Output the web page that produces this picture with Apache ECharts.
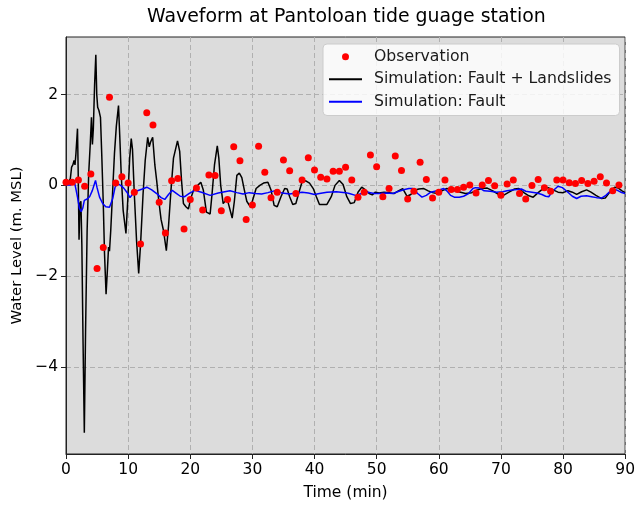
<!DOCTYPE html>
<html>
<head>
<meta charset="utf-8">
<script src="https://cdn.jsdelivr.net/npm/echarts@6/dist/echarts.min.js"></script>
<style>
html,body{margin:0;padding:0;background:#fff;}
#chart{width:638px;height:506px;}
</style>
</head>
<body>
<div id="chart"></div>
<script>
// ---- data ----
const obsTime = [0,1,2,3,4,5,6,7,8,9,10,11,12,13,14,15,16,17,18,19,20,21,22,23,24,25,26,27,28,29,30,31,32,33,34,35,36,37,38,39,40,41,42,43,44,45,46,47,48,49,50,51,52,53,54,55,56,57,58,59,60,61,62,63,64,65,66,67,68,69,70,71,72,73,74,75,76,77,78,79,80,81,82,83,84,85,86,87,88,89];
const obsLevel = [0.07,0.07,0.12,-0.02,0.25,-1.83,-1.37,1.94,0.05,0.19,0.05,-0.15,-1.29,1.60,1.33,-0.37,-1.05,0.10,0.15,-0.96,-0.31,-0.06,-0.54,0.23,0.22,-0.56,-0.31,0.85,0.54,-0.75,-0.43,0.86,0.29,-0.27,-0.15,0.56,0.32,-0.18,0.12,0.61,0.34,0.18,0.14,0.31,0.31,0.40,0.12,-0.26,-0.15,0.67,0.41,-0.25,-0.07,0.65,0.33,-0.30,-0.13,0.51,0.13,-0.28,-0.15,0.12,-0.09,-0.09,-0.04,0.01,-0.17,0.01,0.11,-0.01,-0.22,0.03,0.12,-0.18,-0.30,0.00,0.13,-0.05,-0.13,0.12,0.12,0.06,0.04,0.11,0.04,0.09,0.19,0.05,-0.12,0.01];

const landslideTime = [0.0,0.4,0.7,0.9,1.1,1.3,1.45,1.6,1.85,1.95,2.1,2.25,2.4,2.55,2.75,2.95,3.15,3.4,3.65,3.9,4.1,4.25,4.4,4.6,4.8,4.95,5.1,5.3,5.55,5.75,6.0,6.2,6.45,6.65,6.85,7.0,7.2,7.5,7.8,8.1,8.45,8.65,8.9,9.2,9.65,9.95,10.25,10.5,10.7,11.0,11.35,11.7,12.0,12.4,12.75,13.15,13.4,13.6,13.95,14.3,14.6,14.9,15.3,15.7,16.15,16.5,16.9,17.3,17.95,18.3,18.6,18.9,19.3,19.7,20.1,20.6,21.2,21.7,22.1,22.6,23.2,23.5,23.9,24.35,24.6,24.9,25.3,25.7,26.1,26.75,27.1,27.5,27.9,28.3,28.7,29.1,29.7,30.1,30.6,31.2,31.8,32.5,33.0,33.5,34.0,34.6,35.2,35.6,36.0,36.5,37.0,37.5,38.0,38.6,39.2,39.8,40.3,40.8,41.3,42.0,42.7,43.3,44.0,44.6,45.2,45.8,46.4,47.0,47.6,48.2,48.8,49.3,49.8,50.4,51.2,52.0,52.8,53.5,54.2,54.9,55.5,56.2,56.8,57.6,58.3,59.0,59.7,60.5,61.3,62.2,63.2,64.3,65.3,66.2,67.0,67.8,68.7,69.6,70.4,71.3,72.2,72.9,73.7,74.5,75.2,76.0,76.8,77.6,78.4,79.2,80.0,80.8,81.5,82.2,83.0,83.8,84.5,85.3,86.2,86.8,87.5,88.3,88.9,89.5,90.0];
const landslideLevel = [0.02,0.05,0.15,0.40,0.45,0.55,0.45,0.70,1.25,0.40,-1.20,-0.40,-0.35,-1.30,-3.5,-5.45,-3.2,-1.0,0.25,0.9,1.50,0.9,1.25,2.2,2.88,2.0,1.72,1.65,1.50,0.70,-0.40,-1.5,-2.40,-1.9,-1.36,-1.45,-1.0,-0.15,0.70,1.30,1.76,1.1,0.2,-0.55,-1.06,-0.3,0.6,1.03,0.8,-0.2,-1.2,-1.94,-1.3,-0.2,0.55,1.06,0.85,0.95,1.06,0.45,0.1,-0.3,-0.75,-1.0,-1.44,-0.9,-0.1,0.6,0.98,0.75,0.1,-0.40,-0.47,-0.52,-0.28,-0.08,0.0,0.07,-0.10,-0.59,-0.63,-0.2,0.45,0.87,0.6,0.0,-0.40,-0.33,-0.38,-0.72,-0.35,0.22,0.27,0.17,-0.1,-0.35,-0.48,-0.30,-0.07,0.0,0.05,0.07,-0.1,-0.44,-0.47,-0.25,-0.07,-0.08,-0.25,-0.42,-0.40,-0.15,0.08,0.10,0.05,-0.07,-0.25,-0.42,-0.42,-0.42,-0.25,0.0,0.11,0.02,-0.25,-0.40,-0.38,-0.15,-0.04,-0.10,-0.18,-0.21,-0.15,-0.17,-0.15,-0.16,-0.18,-0.12,-0.07,-0.24,-0.2,-0.1,-0.08,-0.07,-0.12,-0.16,-0.18,-0.12,-0.07,-0.10,-0.14,-0.18,-0.16,-0.10,-0.07,-0.06,-0.12,-0.20,-0.22,-0.15,-0.08,-0.07,-0.16,-0.23,-0.26,-0.16,-0.07,-0.05,-0.10,-0.15,-0.16,-0.12,-0.15,-0.20,-0.14,-0.10,-0.15,-0.22,-0.29,-0.28,-0.15,-0.04,-0.06,-0.12,-0.16];

const faultTime = [0.0,0.8,1.3,1.55,1.85,2.15,2.45,2.7,2.95,3.4,3.8,4.25,4.75,5.0,5.4,5.9,6.4,7.0,7.5,7.9,8.3,8.8,9.3,9.8,10.3,10.8,11.5,12.3,13.0,13.8,14.6,15.3,15.9,16.5,17.1,17.7,18.4,19.1,19.9,20.75,21.8,23.2,24.5,26.4,27.5,28.5,29.5,30.5,31.5,32.5,33.8,34.8,36.0,37.0,38.0,39.0,40.0,40.8,42.0,43.5,45.0,45.6,46.6,47.6,48.6,49.6,50.6,51.6,52.6,53.6,54.5,55.2,55.8,56.6,57.3,58.0,58.7,59.7,60.8,61.3,61.9,62.5,63.3,64.0,64.8,65.5,65.9,66.6,67.3,68.3,69.3,70.3,71.0,71.8,72.6,73.3,74.0,75.0,75.8,76.6,77.2,77.7,78.3,79.2,79.9,80.7,81.5,82.2,82.9,83.8,84.6,85.4,86.2,86.9,87.5,88.0,88.6,89.3,90.0];
const faultLevel = [0.01,0.01,0.11,-0.05,-0.26,-0.50,-0.58,-0.50,-0.33,-0.30,-0.25,-0.11,0.11,-0.05,-0.26,-0.40,-0.47,-0.48,-0.30,-0.04,0.04,0.0,-0.06,-0.15,-0.27,-0.18,-0.12,-0.08,-0.04,-0.10,-0.18,-0.27,-0.31,-0.20,-0.11,-0.17,-0.24,-0.25,-0.17,-0.11,-0.15,-0.22,-0.17,-0.12,-0.16,-0.19,-0.16,-0.18,-0.19,-0.16,-0.11,-0.17,-0.19,-0.17,-0.15,-0.17,-0.20,-0.18,-0.15,-0.14,-0.16,-0.18,-0.22,-0.18,-0.15,-0.18,-0.18,-0.17,-0.18,-0.13,-0.09,-0.07,-0.07,-0.18,-0.26,-0.22,-0.15,-0.12,-0.07,-0.12,-0.22,-0.26,-0.26,-0.24,-0.18,-0.07,-0.05,-0.06,-0.12,-0.13,-0.15,-0.14,-0.12,-0.10,-0.09,-0.08,-0.13,-0.15,-0.17,-0.20,-0.24,-0.25,-0.13,-0.02,-0.05,-0.14,-0.24,-0.29,-0.24,-0.23,-0.25,-0.27,-0.28,-0.22,-0.14,-0.09,-0.10,-0.15,-0.18];

const xTicks = [0,10,20,30,40,50,60,70,80,90];
const yTicks = [-4,-2,0,2];

const seriesNames = ['Observation','Simulation: Fault + Landslides','Simulation: Fault'];

function pairs(xs, ys){ return xs.map((x,i)=>[x, ys[i]]); }

const FONT = 'DejaVu Sans';
const chart = echarts.init(document.getElementById('chart'), null, {renderer:'canvas'});

chart.setOption({
  animation:false,
  backgroundColor:'#ffffff',
  textStyle:{fontFamily:FONT},
  title:{
    text:'Waveform at Pantoloan tide guage station',
    left:147, top:8, padding:0,
    textStyle:{fontFamily:FONT, fontSize:18.9, fontWeight:'normal', color:'#000'}
  },
  grid:{
    left:66, right:11, top:37, bottom:51,
    show:true, backgroundColor:'#dcdcdc', borderColor:'#222', borderWidth:1
  },
  legend:{
    orient:'vertical',
    left:323, top:44,
    padding:[4,8,5,5],
    itemWidth:33, itemHeight:7, itemGap:5,
    backgroundColor:'rgba(255,255,255,0.82)',
    borderColor:'#cccccc', borderWidth:1, borderRadius:4,
    textStyle:{fontFamily:FONT, fontSize:15.7, color:'#1a1a1a', lineHeight:17.5, padding:[0,0,0,7]},
    data:[
      {name:seriesNames[0], icon:'circle', itemStyle:{opacity:1}},
      {name:seriesNames[1], itemStyle:{opacity:0}},
      {name:seriesNames[2], itemStyle:{opacity:0}}
    ]
  },
  xAxis:{
    type:'value', min:0, max:90, interval:10,
    name:'Time (min)', nameLocation:'middle', nameGap:31,
    nameTextStyle:{fontFamily:FONT, fontSize:15.5, color:'#000'},
    axisLine:{show:true, onZero:false, lineStyle:{color:'#222', width:1}},
    axisTick:{show:true, inside:false, length:5, lineStyle:{color:'#222'}, customValues:xTicks},
    axisLabel:{fontFamily:FONT, fontSize:15.5, color:'#000', margin:8, customValues:xTicks},
    splitLine:{show:true, lineStyle:{color:'#b0b0b0', type:[5,3], width:1}}
  },
  yAxis:{
    type:'value', min:-5.92, max:3.27,
    name:'Water Level (m. MSL)', nameLocation:'middle', nameGap:40,
    nameTextStyle:{fontFamily:FONT, fontSize:14.8, color:'#000'},
    axisLine:{show:true, onZero:false, lineStyle:{color:'#222', width:1}},
    axisTick:{show:true, inside:false, length:5, lineStyle:{color:'#222'}, customValues:yTicks},
    axisLabel:{fontFamily:FONT, fontSize:15.5, color:'#000', margin:8, customValues:yTicks,
      formatter:function(v){ return v < 0 ? '\u2212' + Math.abs(v) : String(v); }},
    splitLine:{show:true, lineStyle:{color:'#b0b0b0', type:[5,3], width:1}}
  },
  series:[
    {
      name:seriesNames[0], type:'scatter', z:3,
      data:pairs(obsTime, obsLevel),
      symbol:'circle', symbolSize:7,
      itemStyle:{color:'#ff0000', opacity:1}
    },
    {
      name:seriesNames[1], type:'line', z:2,
      data:pairs(landslideTime, landslideLevel),
      symbol:'none', smooth:false,
      lineStyle:{color:'#000000', width:1.5},
      itemStyle:{color:'#000000'}
    },
    {
      name:seriesNames[2], type:'line', z:2,
      data:pairs(faultTime, faultLevel),
      symbol:'none', smooth:false,
      lineStyle:{color:'#0000ff', width:1.5},
      itemStyle:{color:'#0000ff'}
    }
  ]
});
</script>
</body>
</html>
